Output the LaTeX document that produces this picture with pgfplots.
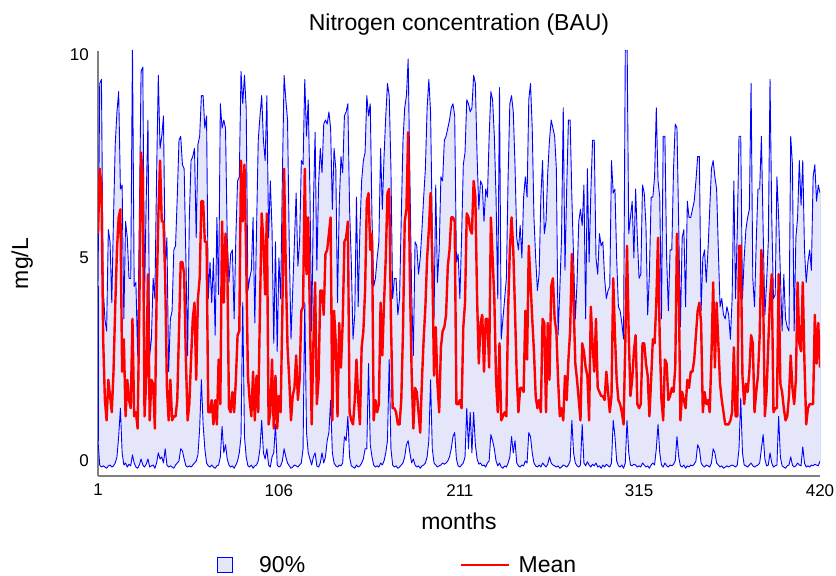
\documentclass[border=0pt]{standalone}
\usepackage{pgfplots}
\pgfplotsset{compat=1.18}
\usepackage{pgfplotstable}
\usepgfplotslibrary{fillbetween}
\usepackage{fontspec}
\setmainfont{Liberation Sans}
\definecolor{bandblue}{RGB}{0,0,255}
\definecolor{bandfill}{RGB}{230,230,250}
\definecolor{meanred}{RGB}{255,0,0}
\definecolor{axisgray}{RGB}{128,128,128}

% monthly nitrogen concentration: 5% / 95% band limits (l, u) and mean (mu), mg/L
\pgfplotstableread{
m u mu l
1 4.3 5.6 0.5
2 9.3 7.2 -0.1
3 9.4 6.8 -0.15
4 4.3 3.0 -0.12
5 3.5 1.5 -0.15
6 3.2 1.0 -0.18
7 5.7 2.0 -0.12
8 5.4 1.6 -0.1
9 3.9 1.2 -0.15
10 6.0 2.2 -0.12
11 7.8 3.8 -0.05
12 8.6 5.2 0.1
13 9.1 6.0 0.6
14 6.7 6.2 1.3
15 6.8 2.2 0.2
16 3.5 3.0 -0.1
17 5.9 1.1 -0.05
18 5.5 2.0 -0.15
19 4.5 1.5 -0.08
20 4.5 1.3 -0.12
21 10.2 3.5 0.15
22 4.3 1.1 -0.05
23 4.4 1.2 -0.15
24 2.6 0.8 -0.18
25 6.0 3.8 -0.1
26 9.6 7.6 0.05
27 9.7 7.0 -0.1
28 4.0 1.1 -0.15
29 6.5 2.0 -0.08
30 8.4 4.6 0.05
31 2.6 1.0 -0.15
32 3.0 2.0 -0.12
33 4.5 1.9 -0.1
34 4.0 0.8 -0.18
35 7.0 4.0 -0.05
36 9.5 6.0 0.2
37 7.7 7.4 0.05
38 8.0 5.9 0.1
39 8.5 5.9 -0.05
40 4.8 4.5 0.3
41 5.5 1.8 -0.1
42 2.2 1.0 -0.15
43 3.5 2.0 -0.12
44 3.7 1.0 -0.15
45 5.2 1.1 -0.18
46 5.3 1.1 -0.1
47 6.5 1.5 -0.05
48 7.9 3.2 0.0
49 8.0 4.9 0.3
50 7.3 4.9 0.25
51 7.2 4.6 0.05
52 5.0 2.5 -0.12
53 2.6 1.0 -0.15
54 6.0 1.4 -0.12
55 7.4 2.5 -0.15
56 7.5 3.5 -0.1
57 7.7 3.9 -0.05
58 5.5 2.0 0.0
59 7.8 4.0 0.15
60 8.0 4.5 0.8
61 9.0 6.4 2.0
62 9.0 6.4 0.9
63 8.2 5.4 0.3
64 8.5 5.4 -0.05
65 4.0 1.2 -0.12
66 4.9 1.2 -0.15
67 3.9 1.5 -0.1
68 5.0 0.9 -0.15
69 3.1 1.5 -0.18
70 6.0 0.9 -0.12
71 4.1 2.5 -0.1
72 8.8 1.4 0.1
73 8.2 5.9 0.85
74 8.4 3.9 0.2
75 8.2 5.6 0.4
76 5.5 5.0 0.05
77 4.4 1.3 -0.1
78 5.1 1.2 -0.15
79 5.2 1.7 -0.12
80 3.5 1.2 -0.18
81 5.5 2.0 -0.1
82 6.9 3.1 0.0
83 7.0 3.2 0.2
84 9.6 7.4 0.6
85 8.8 5.9 3.9
86 9.5 7.3 0.6
87 8.7 5.0 0.1
88 4.2 2.1 -0.12
89 4.5 1.5 -0.15
90 4.7 1.1 -0.1
91 6.0 2.2 -0.18
92 3.4 1.0 -0.12
93 5.7 2.1 -0.1
94 7.9 1.2 0.0
95 8.5 3.8 0.3
96 9.0 6.1 1.0
97 7.9 5.4 0.2
98 7.4 4.1 0.05
99 9.0 6.1 0.3
100 5.5 0.9 -0.1
101 6.9 1.2 -0.15
102 5.7 2.5 0.1
103 2.9 0.8 0.2
104 5.4 2.1 0.9
105 2.7 0.8 -0.1
106 5.0 1.6 -0.15
107 4.0 1.2 -0.12
108 7.0 3.7 0.0
109 9.5 7.2 0.3
110 8.9 4.7 0.1
111 8.4 2.8 -0.05
112 5.3 2.0 -0.12
113 3.0 1.0 -0.18
114 4.2 1.6 -0.15
115 5.4 1.8 -0.1
116 6.6 2.6 -0.12
117 4.8 1.5 -0.15
118 5.4 2.0 -0.1
119 7.4 3.7 -0.05
120 7.3 3.8 0.3
121 9.4 7.2 3.9
122 8.0 4.6 0.7
123 8.9 6.0 0.2
124 6.6 3.5 0.05
125 3.2 0.9 -0.1
126 6.3 2.9 0.1
127 8.1 4.4 0.2
128 4.7 1.4 -0.12
129 6.8 2.0 -0.15
130 7.7 4.2 -0.05
131 7.1 4.2 0.2
132 8.3 3.6 -0.05
133 8.4 5.1 0.1
134 8.3 5.2 0.5
135 8.6 5.6 0.7
136 8.2 6.0 1.5
137 6.2 1.0 0.2
138 7.7 3.7 -0.05
139 7.2 2.9 -0.12
140 3.9 1.1 -0.15
141 6.3 3.4 -0.1
142 7.5 2.3 -0.12
143 7.1 3.4 -0.05
144 8.5 5.4 0.6
145 8.6 5.5 0.5
146 8.8 5.9 1.1
147 6.2 1.2 0.1
148 4.9 1.0 -0.12
149 3.0 0.9 -0.15
150 3.6 1.5 -0.18
151 6.5 2.5 -0.1
152 3.8 1.5 -0.15
153 5.7 0.9 -0.12
154 6.9 2.8 -0.05
155 7.4 3.2 0.05
156 7.6 4.2 0.3
157 9.0 6.4 0.3
158 8.5 6.6 2.4
159 8.8 5.2 0.4
160 6.0 5.6 0.1
161 4.3 1.0 -0.1
162 4.5 1.5 -0.15
163 5.0 1.2 -0.12
164 5.4 1.4 -0.15
165 7.7 3.9 -0.05
166 6.2 2.6 -0.1
167 7.5 3.9 0.0
168 8.5 5.0 0.2
169 9.3 6.6 0.5
170 9.0 6.7 2.5
171 7.2 3.5 0.3
172 4.0 1.3 -0.1
173 4.5 1.3 -0.15
174 4.5 1.2 -0.12
175 3.6 0.9 -0.18
176 4.0 0.9 -0.15
177 6.0 1.5 -0.1
178 7.9 3.2 -0.05
179 8.7 5.9 0.1
180 9.0 6.2 0.4
181 9.9 8.1 0.5
182 7.0 4.5 0.2
183 4.2 2.2 -0.05
184 2.6 0.8 0.05
185 5.4 1.8 -0.1
186 5.3 1.7 -0.15
187 4.6 1.2 -0.12
188 5.0 0.7 -0.18
189 5.7 2.0 -0.12
190 6.5 3.0 -0.1
191 7.2 3.8 -0.05
192 8.7 5.0 0.1
193 9.4 5.7 0.5
194 8.6 6.6 2.0
195 5.7 4.9 0.3
196 3.5 2.1 -0.05
197 6.8 3.3 -0.1
198 4.4 1.9 -0.15
199 5.2 1.2 -0.12
200 7.0 2.8 -0.1
201 6.9 3.2 -0.05
202 7.9 3.3 -0.08
203 8.0 3.6 -0.05
204 8.2 4.8 0.0
205 8.4 5.2 0.1
206 8.7 6.0 0.3
207 8.8 6.0 0.6
208 8.5 5.9 0.7
209 4.9 1.4 0.05
210 5.1 1.4 -0.12
211 4.0 1.5 -0.15
212 5.5 1.3 -0.1
213 7.3 3.3 -0.05
214 7.6 3.9 0.1
215 8.9 6.1 1.3
216 8.8 6.0 0.3
217 8.6 5.7 1.2
218 8.7 5.6 0.2
219 9.5 6.9 1.2
220 9.3 6.5 0.4
221 7.5 4.0 0.05
222 6.2 2.4 -0.08
223 6.9 3.4 -0.05
224 6.8 3.6 -0.12
225 5.9 2.2 -0.1
226 6.7 3.5 -0.15
227 6.5 3.5 -0.05
228 8.0 2.3 0.0
229 9.1 6.0 0.65
230 8.9 5.0 0.5
231 8.0 4.0 0.3
232 6.5 2.0 0.0
233 4.0 1.2 -0.12
234 9.2 2.9 -0.05
235 3.0 1.0 -0.15
236 3.5 1.1 -0.18
237 4.0 1.2 -0.12
238 4.5 1.1 -0.15
239 7.0 3.7 -0.05
240 8.8 5.2 0.1
241 9.0 6.0 0.6
242 8.6 5.2 0.2
243 7.3 3.7 0.5
244 5.5 2.1 -0.05
245 5.2 1.2 -0.12
246 5.8 1.8 -0.15
247 5.0 1.8 -0.1
248 6.5 1.7 -0.12
249 7.0 3.7 0.0
250 6.5 2.5 -0.05
251 8.9 5.3 0.7
252 9.3 4.4 0.6
253 8.2 3.5 0.2
254 6.0 2.7 -0.05
255 5.0 1.6 -0.12
256 4.2 1.3 -0.15
257 4.6 1.5 -0.1
258 6.5 1.2 -0.15
259 7.4 3.5 -0.05
260 5.6 3.4 -0.1
261 5.9 1.2 -0.15
262 7.1 3.4 -0.08
263 7.9 2.0 0.1
264 8.4 4.3 -0.05
265 8.2 4.5 -0.1
266 8.0 3.5 -0.12
267 7.2 3.2 -0.15
268 3.1 2.0 -0.12
269 4.2 1.1 -0.18
270 5.5 1.3 -0.15
271 8.7 1.0 -0.1
272 4.7 2.1 -0.12
273 6.7 1.5 -0.15
274 8.4 2.5 -0.1
275 8.4 3.2 0.0
276 6.5 5.1 1.0
277 5.0 3.9 0.2
278 3.5 2.4 -0.05
279 4.4 2.0 -0.12
280 5.9 1.5 -0.15
281 6.2 1.0 -0.1
282 5.8 2.9 0.9
283 6.8 2.7 -0.05
284 3.5 2.3 -0.12
285 7.2 2.1 -0.02
286 4.9 1.0 -0.1
287 6.6 3.8 -0.15
288 7.9 2.9 -0.08
289 7.9 2.2 -0.12
290 5.0 3.5 -0.05
291 4.6 1.8 -0.15
292 5.6 1.7 -0.12
293 5.3 1.6 -0.18
294 5.4 1.6 -0.1
295 4.5 1.5 -0.15
296 4.0 2.2 -0.08
297 4.2 1.7 -0.12
298 4.3 1.2 -0.15
299 7.4 1.6 -0.05
300 6.6 4.5 1.0
301 6.7 3.1 0.6
302 5.0 2.0 0.0
303 3.8 1.5 -0.12
304 3.7 1.4 -0.15
305 3.4 1.2 -0.1
306 3.0 0.9 -0.18
307 10.1 2.9 -0.05
308 10.6 5.3 1.0
309 5.6 3.1 0.2
310 6.0 1.6 -0.1
311 6.4 2.0 -0.12
312 5.0 2.7 -0.08
313 6.7 3.1 -0.1
314 5.5 1.4 -0.15
315 4.5 1.3 -0.12
316 4.6 1.4 -0.15
317 6.8 2.9 -0.05
318 6.6 2.9 -0.1
319 5.8 2.4 -0.15
320 3.6 2.1 -0.12
321 4.6 1.1 -0.18
322 6.5 2.0 -0.1
323 6.5 3.0 -0.05
324 7.0 2.9 -0.1
325 8.7 3.9 0.3
326 6.9 5.5 0.9
327 6.5 3.0 0.2
328 3.5 1.5 -0.1
329 8.0 1.0 -0.15
330 8.0 2.5 -0.05
331 5.0 2.4 -0.12
332 3.7 1.5 -0.15
333 5.2 1.6 -0.1
334 5.2 1.8 -0.12
335 7.2 1.7 -0.08
336 8.3 2.3 0.0
337 8.2 5.6 0.6
338 5.8 4.4 0.1
339 3.3 1.0 -0.12
340 5.5 1.7 -0.15
341 5.7 1.5 -0.1
342 3.8 1.3 -0.18
343 6.4 2.0 -0.12
344 6.0 1.8 -0.15
345 6.0 2.2 -0.1
346 6.2 2.2 -0.12
347 6.4 2.5 -0.08
348 6.9 3.1 0.0
349 7.5 3.7 0.4
350 7.5 3.9 0.3
351 3.7 3.4 -0.05
352 5.0 1.2 -0.12
353 5.2 1.7 -0.15
354 4.4 1.4 -0.1
355 5.2 1.5 -0.12
356 6.2 1.2 -0.15
357 7.2 2.6 -0.05
358 7.4 4.4 0.3
359 7.0 2.3 0.2
360 6.7 3.9 -0.05
361 5.2 2.9 -0.1
362 3.8 1.9 -0.15
363 4.0 1.5 -0.12
364 3.6 1.2 -0.18
365 3.5 0.9 -0.15
366 3.8 0.9 -0.12
367 3.6 0.9 -0.15
368 3.0 1.0 -0.12
369 4.0 1.2 -0.1
370 6.9 2.8 -0.12
371 4.0 1.1 -0.15
372 5.7 1.1 -0.1
373 8.0 5.3 0.3
374 8.0 5.3 1.55
375 4.0 2.1 0.2
376 5.0 1.4 -0.1
377 5.7 1.9 -0.12
378 6.0 1.7 -0.15
379 6.2 2.2 -0.1
380 9.3 3.1 -0.05
381 4.5 2.9 -0.12
382 3.8 1.2 -0.15
383 5.4 1.7 -0.12
384 6.7 2.1 -0.1
385 6.7 3.1 -0.05
386 8.0 5.2 0.3
387 5.7 4.1 0.65
388 3.6 1.1 0.05
389 4.4 1.7 -0.12
390 5.4 2.9 -0.1
391 9.4 4.0 0.2
392 6.0 4.6 -0.05
393 4.0 1.2 -0.15
394 4.1 1.3 -0.12
395 7.0 1.3 -0.1
396 6.0 4.6 1.1
397 4.6 1.9 0.1
398 3.2 1.7 -0.12
399 4.6 1.3 -0.15
400 3.5 1.0 -0.18
401 3.3 1.1 -0.12
402 3.2 1.6 -0.1
403 8.0 2.6 0.1
404 7.3 1.8 -0.1
405 3.2 1.4 -0.15
406 5.5 2.0 -0.12
407 6.0 4.4 -0.05
408 7.4 2.9 -0.1
409 6.3 2.7 -0.12
410 7.4 4.4 0.35
411 5.2 2.4 -0.05
412 4.4 0.9 -0.15
413 4.9 1.3 -0.12
414 5.2 1.4 -0.15
415 4.7 1.4 -0.1
416 7.0 1.4 -0.12
417 7.3 3.6 -0.08
418 6.4 2.4 -0.1
419 6.8 3.4 -0.12
420 6.6 2.3 0.0
}\nitrogen

\begin{document}
\begin{tikzpicture}
\begin{axis}[
  at={(0pt,0pt)}, anchor=south west,
  scale only axis, width=722pt, height=425pt,
  xmin=1, xmax=420, ymin=-0.37, ymax=10.1,
  axis lines*=left,
  axis line style={axisgray, line width=1.5pt},
  xtick={1,106,211,315,420}, ytick={0,5,10},
  major tick length=0pt,
  tick label style={font=\fontsize{17}{17}\selectfont},
  /pgf/number format/assume math mode=true,
  xticklabel style={anchor=north, inner sep=0pt, yshift=-8pt},
  yticklabel style={anchor=east, inner sep=0pt, xshift=-9pt},
  title={Nitrogen concentration (BAU)},
  title style={at={(axis description cs:0.5,1.0341)}, anchor=base, inner sep=0pt,
    font=\fontsize{23}{23}\selectfont},
  xlabel={months},
  xlabel style={at={(axis description cs:0.5,-0.127)}, anchor=base, inner sep=0pt,
    font=\fontsize{23}{23}\selectfont},
  ylabel={mg/L},
  ylabel style={at={(axis description cs:-0.105,0.5)}, anchor=center, inner sep=0pt,
    font=\fontsize{23}{23}\selectfont},
  legend columns=2,
  legend cell align=left,
  legend style={at={(axis description cs:0.1648,-0.2094)}, anchor=west,
    draw=none, fill=none, inner sep=0pt,
    font=\fontsize{23}{23}\selectfont,
    column sep=0pt,
    nodes={inner sep=0pt},
    /tikz/column 1/.style={column sep=26pt},
    /tikz/column 2/.style={column sep=155pt},
    /tikz/column 3/.style={column sep=9pt}},
]
% 90% band: limits, shaded area between them, and the closing edges
\addplot[name path=upper, draw=bandblue, line width=0.9pt, line join=round, forget plot]
  table[x=m, y=u] {\nitrogen};
\addplot[name path=lower, draw=bandblue, line width=0.9pt, line join=round, forget plot]
  table[x=m, y=l] {\nitrogen};
\addplot[bandfill, forget plot] fill between[of=upper and lower];
\addplot[draw=bandblue, line width=0.9pt, forget plot] coordinates {(1,0.5) (1,4.3)};
\addplot[draw=bandblue, line width=0.9pt, forget plot] coordinates {(420,0.0) (420,6.6)};
% mean
\addplot[meanred, line width=2.4pt, line join=round, forget plot]
  table[x=m, y=mu] {\nitrogen};

\addlegendimage{legend image code/.code={%
  \draw[draw=bandblue, fill=bandfill, line width=1pt] (0pt,-7.5pt) rectangle (15pt,7.5pt);}}
\addlegendentry{90\%}
\addlegendimage{legend image code/.code={%
  \draw[meanred, line width=1.5pt] (0pt,0pt) -- (48pt,0pt);}}
\addlegendentry{Mean}
\end{axis}
% page: the full canvas around the axis box
\pgfresetboundingbox
\useasboundingbox (-98pt,-100pt) rectangle (738pt,476pt);
\end{tikzpicture}
\end{document}
